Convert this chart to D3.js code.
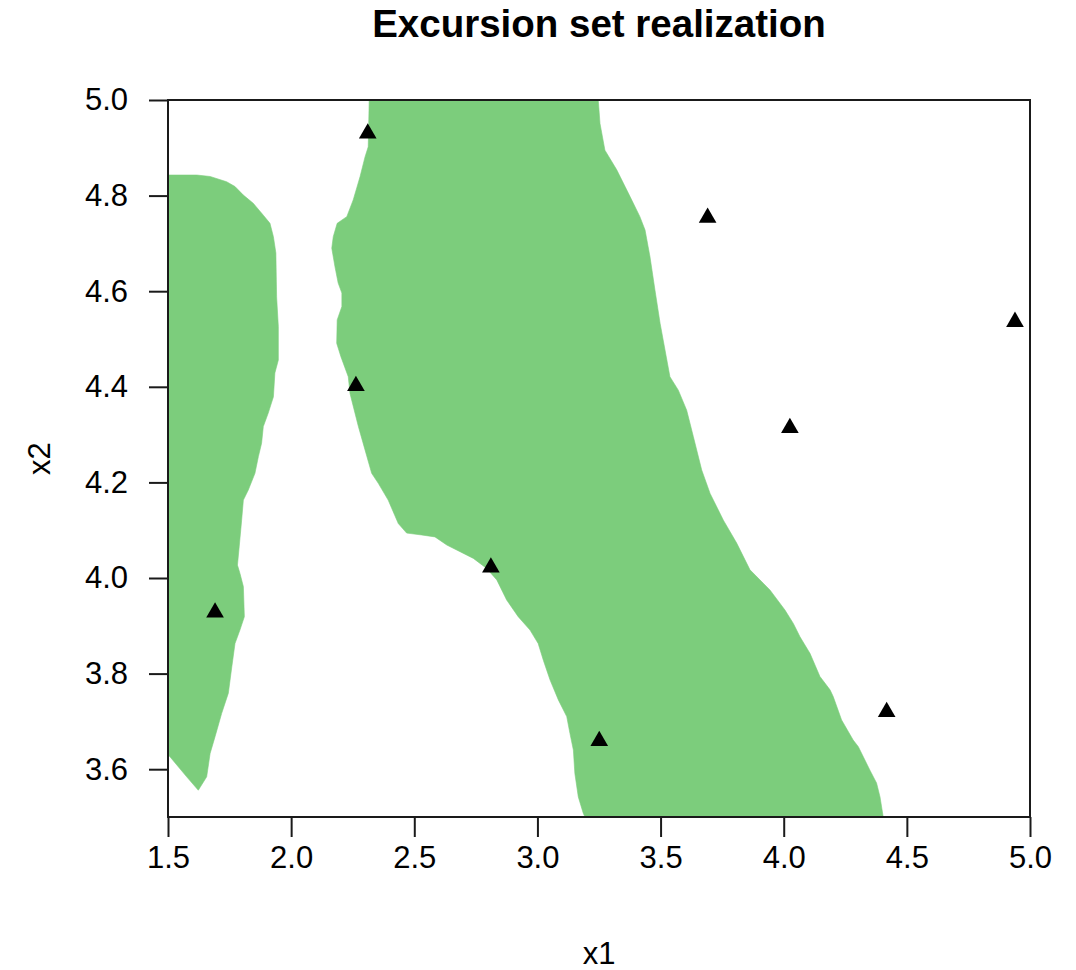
<!DOCTYPE html>
<html>
<head>
<meta charset="utf-8">
<script src="https://cdn.jsdelivr.net/npm/d3@7"></script>
<style>
  html, body { margin: 0; padding: 0; background: #fff; }
  svg { display: block; font-family: "Liberation Sans", Arial, sans-serif; }
</style>
</head>
<body>
<svg id="chart" width="1076" height="970"></svg>
<script>
// ---- data (in data units) ----
const title = "Excursion set realization";
const xLabel = "x1";
const yLabel = "x2";
const xDomain = [1.5, 5.0];
const yDomain = [3.5, 5.0];
const xTicks = [1.5, 2.0, 2.5, 3.0, 3.5, 4.0, 4.5, 5.0];
const yTicks = [3.6, 3.8, 4.0, 4.2, 4.4, 4.6, 4.8, 5.0];

// excursion set region, left component
const leftRegion = [
  [1.500, 4.843], [1.617, 4.843], [1.671, 4.840], [1.738, 4.829], [1.772, 4.819],
  [1.806, 4.801], [1.846, 4.784], [1.887, 4.759], [1.914, 4.742], [1.928, 4.714],
  [1.938, 4.680], [1.941, 4.588], [1.948, 4.526], [1.948, 4.456], [1.934, 4.429],
  [1.928, 4.379], [1.907, 4.345], [1.887, 4.317], [1.880, 4.282], [1.867, 4.254],
  [1.853, 4.219], [1.826, 4.184], [1.806, 4.163], [1.799, 4.121], [1.789, 4.065],
  [1.782, 4.027], [1.792, 4.010], [1.806, 3.982], [1.810, 3.919], [1.792, 3.891],
  [1.772, 3.863], [1.759, 3.814], [1.745, 3.759], [1.718, 3.717], [1.691, 3.668],
  [1.671, 3.633], [1.657, 3.584], [1.623, 3.556], [1.576, 3.584], [1.508, 3.626],
  [1.500, 3.630]
];

// excursion set region, main component
const mainRegion = [
  [2.317, 5.000], [2.313, 4.902], [2.300, 4.881], [2.280, 4.840], [2.252, 4.791],
  [2.226, 4.756], [2.187, 4.742], [2.171, 4.714], [2.165, 4.690], [2.178, 4.651],
  [2.191, 4.617], [2.206, 4.596], [2.206, 4.568], [2.187, 4.540], [2.185, 4.491],
  [2.202, 4.463], [2.232, 4.421], [2.239, 4.386], [2.273, 4.317], [2.300, 4.268],
  [2.327, 4.219], [2.354, 4.198], [2.394, 4.163], [2.435, 4.114], [2.469, 4.094],
  [2.530, 4.090], [2.584, 4.086], [2.632, 4.069], [2.686, 4.055], [2.740, 4.041],
  [2.794, 4.020], [2.835, 3.996], [2.875, 3.954], [2.922, 3.919], [2.970, 3.891],
  [3.003, 3.863], [3.024, 3.828], [3.051, 3.787], [3.085, 3.745], [3.119, 3.710],
  [3.132, 3.675], [3.146, 3.640], [3.152, 3.591], [3.166, 3.542], [3.186, 3.508],
  [3.193, 3.500],
  [4.404, 3.500], [4.391, 3.542], [4.377, 3.571], [4.350, 3.598], [4.303, 3.647],
  [4.282, 3.661], [4.235, 3.703], [4.201, 3.752], [4.188, 3.766], [4.147, 3.794],
  [4.107, 3.842], [4.066, 3.877], [4.039, 3.905], [4.005, 3.933], [3.944, 3.975],
  [3.917, 3.989], [3.863, 4.017], [3.809, 4.073], [3.755, 4.121], [3.701, 4.177],
  [3.667, 4.226], [3.633, 4.296], [3.606, 4.351], [3.572, 4.393], [3.538, 4.421],
  [3.518, 4.477], [3.498, 4.533], [3.477, 4.603], [3.457, 4.672], [3.437, 4.728],
  [3.416, 4.756], [3.376, 4.798], [3.322, 4.854], [3.274, 4.895], [3.254, 4.951],
  [3.247, 5.000]
];

// design points
const pointsX = [2.311, 3.691, 4.939, 2.263, 4.025, 2.811, 1.691, 3.251, 4.418];
const pointsY = [4.930, 4.754, 4.536, 4.402, 4.314, 4.022, 3.928, 3.659, 3.720];

// ---- layout ----
const svg = d3.select("#chart");
const plot = { left: 168, right: 1030, top: 100, bottom: 817 };
const x = d3.scaleLinear().domain(xDomain).range([plot.left, plot.right]);
const y = d3.scaleLinear().domain(yDomain).range([plot.bottom, plot.top]);
const fill = "#7CCD7C";
const ink = "#1a1a1a";

svg.append("defs").append("clipPath").attr("id", "clip")
  .append("rect").attr("x", plot.left).attr("y", plot.top)
  .attr("width", plot.right - plot.left).attr("height", plot.bottom - plot.top);

const area = svg.append("g").attr("clip-path", "url(#clip)");
const line = d3.line().x(d => x(d[0])).y(d => y(d[1])).curve(d3.curveLinear);

[leftRegion, mainRegion].forEach(r => {
  area.append("path").attr("d", line(r) + "Z")
    .attr("fill", fill).attr("stroke", fill).attr("stroke-width", 0.6);
});

// points
const tri = d3.symbol().type(d3.symbolTriangle).size(135);
svg.append("g").selectAll("path").data(pointsX.map((v, i) => [v, pointsY[i]]))
  .join("path")
  .attr("d", tri)
  .attr("transform", d => `translate(${x(d[0])},${y(d[1])})`)
  .attr("fill", "#000");

// box
svg.append("rect")
  .attr("x", plot.left).attr("y", plot.top)
  .attr("width", plot.right - plot.left).attr("height", plot.bottom - plot.top)
  .attr("fill", "none").attr("stroke", ink).attr("stroke-width", 2);

// axes
const fontSize = 31;
const xAxis = d3.axisBottom(x).tickValues(xTicks).tickFormat(d3.format(".1f"))
  .tickSizeInner(20).tickSizeOuter(0).tickPadding(9);
const gx = svg.append("g").attr("transform", `translate(0,${plot.bottom})`).call(xAxis);
gx.select(".domain").remove();
gx.selectAll(".tick line").attr("stroke", ink).attr("stroke-width", 2);
gx.selectAll(".tick text").attr("font-size", fontSize).attr("fill", "#000")
  .attr("font-family", "Liberation Sans, Arial, sans-serif").attr("dy", "0.71em");

const yAxis = d3.axisLeft(y).tickValues(yTicks).tickFormat(d3.format(".1f"))
  .tickSizeInner(19).tickSizeOuter(0).tickPadding(21);
const gy = svg.append("g").attr("transform", `translate(${plot.left},0)`).call(yAxis);
gy.select(".domain").remove();
gy.selectAll(".tick line").attr("stroke", ink).attr("stroke-width", 2);
gy.selectAll(".tick text").attr("font-size", fontSize).attr("fill", "#000")
  .attr("font-family", "Liberation Sans, Arial, sans-serif");

// title & labels
svg.append("text").attr("x", (plot.left + plot.right) / 2).attr("y", 37)
  .attr("text-anchor", "middle").attr("font-weight", "bold").attr("font-size", 38.5)
  .attr("fill", "#000").text(title);

svg.append("text").attr("x", (plot.left + plot.right) / 2).attr("y", 964)
  .attr("text-anchor", "middle").attr("font-size", fontSize).attr("fill", "#000")
  .text(xLabel);

svg.append("text").attr("transform", `translate(50,${(plot.top + plot.bottom) / 2}) rotate(-90)`)
  .attr("text-anchor", "middle").attr("font-size", fontSize).attr("fill", "#000")
  .text(yLabel);
</script>
</body>
</html>
